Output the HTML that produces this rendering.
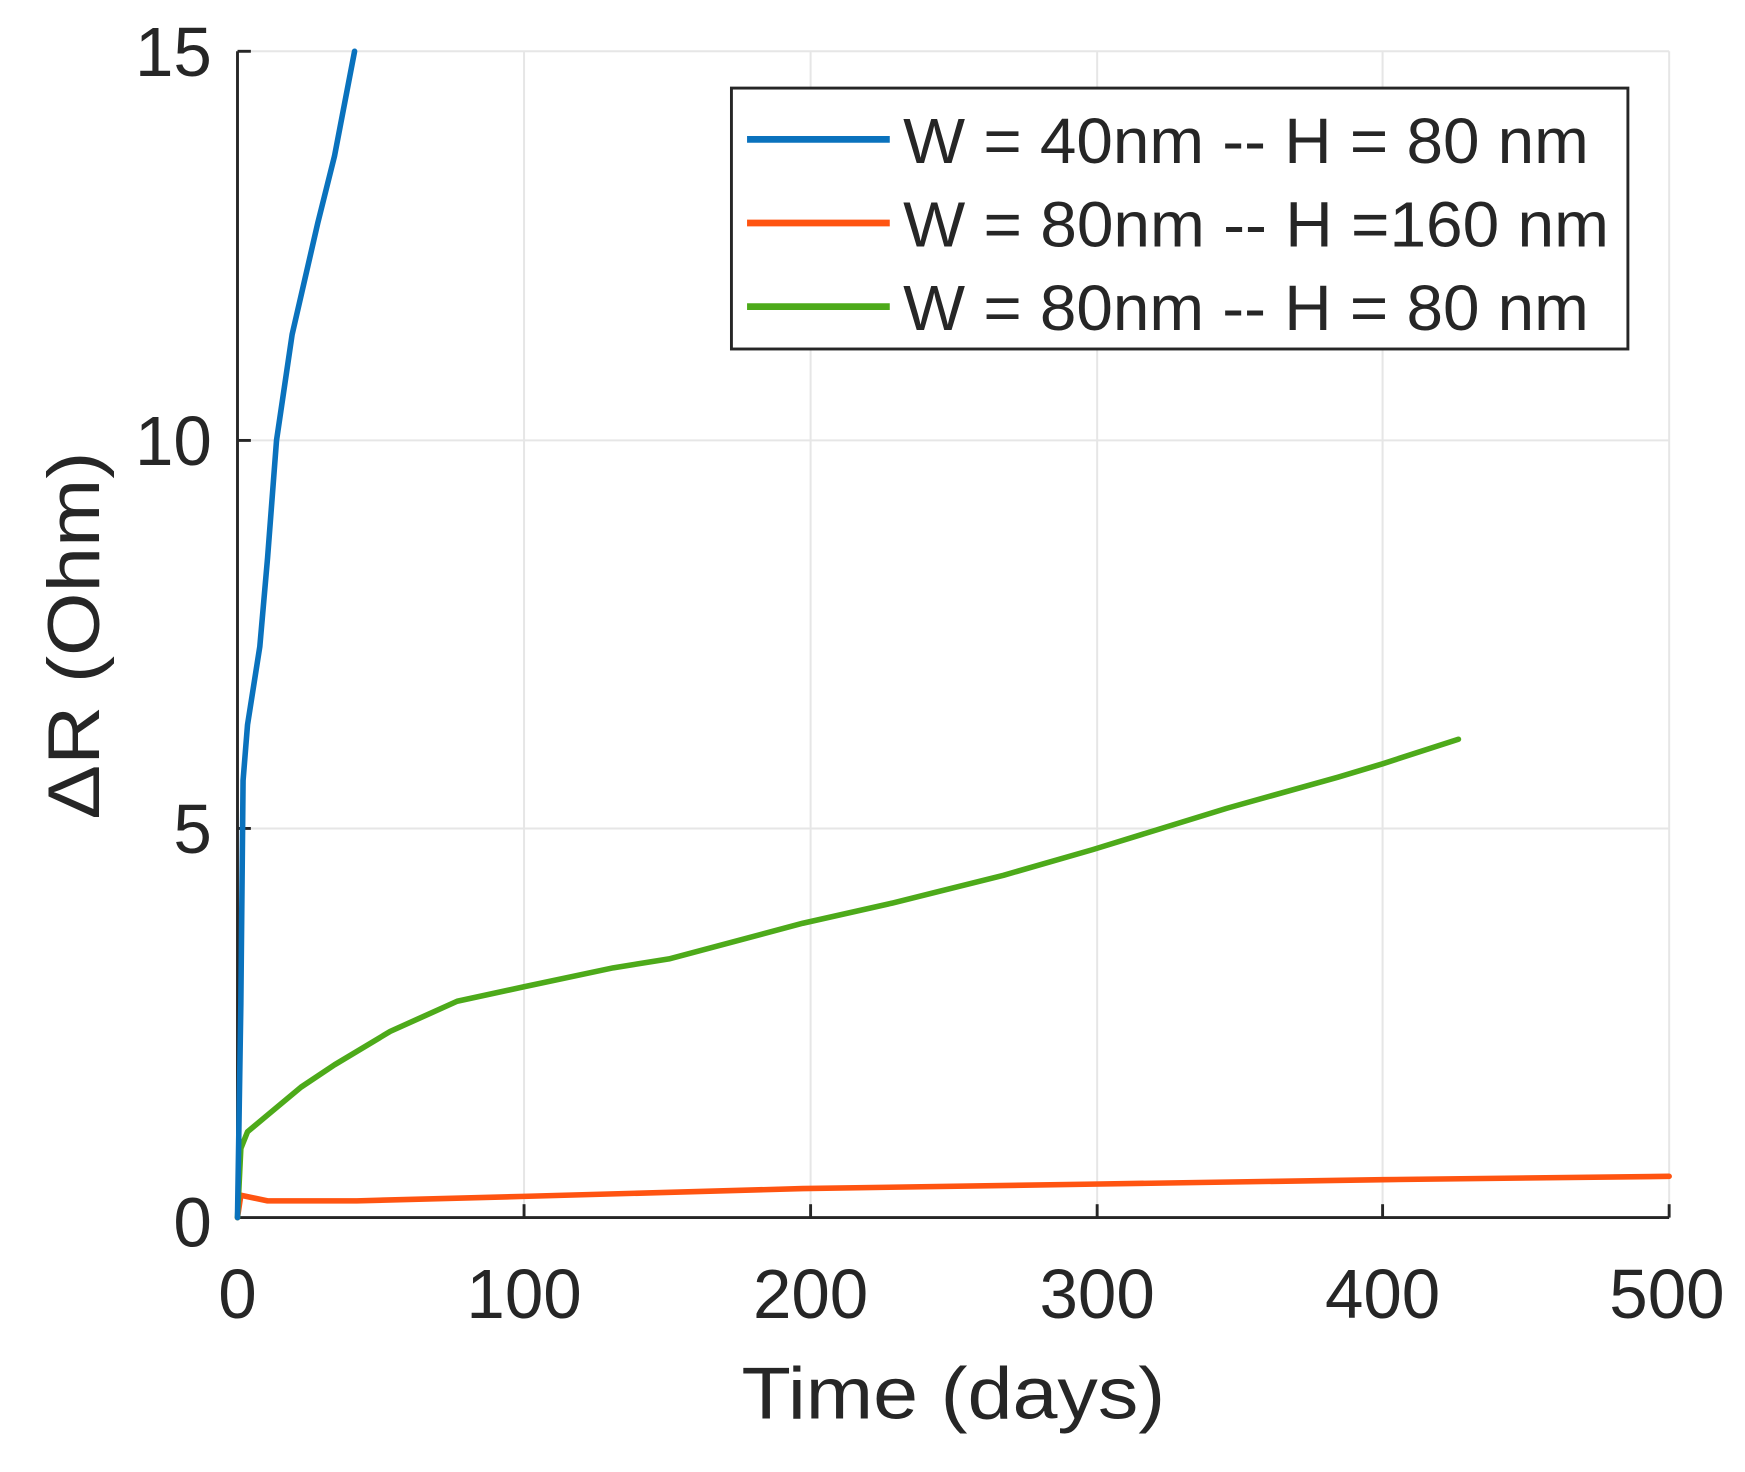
<!DOCTYPE html>
<html><head><meta charset="utf-8"><style>
html,body{margin:0;padding:0;background:#fff;}
svg{display:block;}
text{font-family:"Liberation Sans",Arial,sans-serif;fill:#262626;}
</style></head><body>
<svg width="1745" height="1472" viewBox="0 0 1745 1472" xmlns="http://www.w3.org/2000/svg">
<g transform="scale(1.115)">
<g stroke="#e6e6e6" stroke-width="1.8">
<line x1="470" y1="46" x2="470" y2="1092"/><line x1="727" y1="46" x2="727" y2="1092"/>
<line x1="984" y1="46" x2="984" y2="1092"/><line x1="1240" y1="46" x2="1240" y2="1092"/>
<line x1="1497" y1="46" x2="1497" y2="1092"/>
<line x1="213" y1="46" x2="1497" y2="46"/><line x1="213" y1="395" x2="1497" y2="395"/><line x1="213" y1="743" x2="1497" y2="743"/>
</g>
<g stroke="#262626" stroke-width="2.6">
<line x1="213" y1="1092" x2="1497" y2="1092"/><line x1="213" y1="46" x2="213" y2="1092"/>
<line x1="470" y1="1092" x2="470" y2="1080"/><line x1="727" y1="1092" x2="727" y2="1080"/>
<line x1="984" y1="1092" x2="984" y2="1080"/><line x1="1240" y1="1092" x2="1240" y2="1080"/>
<line x1="1497" y1="1092" x2="1497" y2="1080"/>
<line x1="213" y1="395" x2="225" y2="395"/><line x1="213" y1="743" x2="225" y2="743"/><line x1="213" y1="46" x2="225" y2="46"/>
</g>
<g fill="none" stroke-width="5" stroke-linejoin="round" stroke-linecap="round">
<polyline stroke="#ff5411" points="213,1092 216,1072 240,1077 320,1077 470,1073 720,1066 980,1062 1240,1058 1497,1055"/>
<polyline stroke="#4daa1a" points="213,1092 216,1030 222,1015 240,1000 270,975 300,955 350,925 410,898 470,885 550,868 600,860 720,828 800,810 900,785 980,762 1100,725 1200,697 1240,685 1308,663"/>
<polyline stroke="#0a72bd" points="213,1092 216,900 218,700 222,650 233,580 240,500 248,395 262,300 285,200 300,140 318,46"/>
</g>
<rect x="656" y="79" width="804" height="234" fill="#fff" stroke="#262626" stroke-width="2.6"/>
<line x1="670" y1="125" x2="798" y2="125" stroke="#0a72bd" stroke-width="6"/>
<line x1="670" y1="200" x2="798" y2="200" stroke="#ff5411" stroke-width="6"/>
<line x1="670" y1="275" x2="798" y2="275" stroke="#4daa1a" stroke-width="6"/>
<g font-size="57">
<text x="810" y="146" textLength="615" lengthAdjust="spacingAndGlyphs">W = 40nm -- H = 80 nm</text>
<text x="810" y="221" textLength="633" lengthAdjust="spacingAndGlyphs">W = 80nm -- H =160 nm</text>
<text x="810" y="296" textLength="615" lengthAdjust="spacingAndGlyphs">W = 80nm -- H = 80 nm</text>
</g>
<g font-size="62" text-anchor="end">
<text x="190" y="68">15</text><text x="190" y="417">10</text><text x="190" y="765">5</text><text x="190" y="1118">0</text>
</g>
<g font-size="62" text-anchor="middle">
<text x="213" y="1182">0</text><text x="470" y="1182">100</text><text x="727" y="1182">200</text>
<text x="984" y="1182">300</text><text x="1240" y="1182">400</text><text x="1495" y="1182">500</text>
</g>
<text x="855" y="1272" font-size="66" text-anchor="middle" textLength="380" lengthAdjust="spacingAndGlyphs">Time (days)</text>
<text x="0" y="0" font-size="66" text-anchor="middle" textLength="330" lengthAdjust="spacingAndGlyphs" transform="translate(89,570) rotate(-90)">ΔR (Ohm)</text>
</g>
</svg>
</body></html>
